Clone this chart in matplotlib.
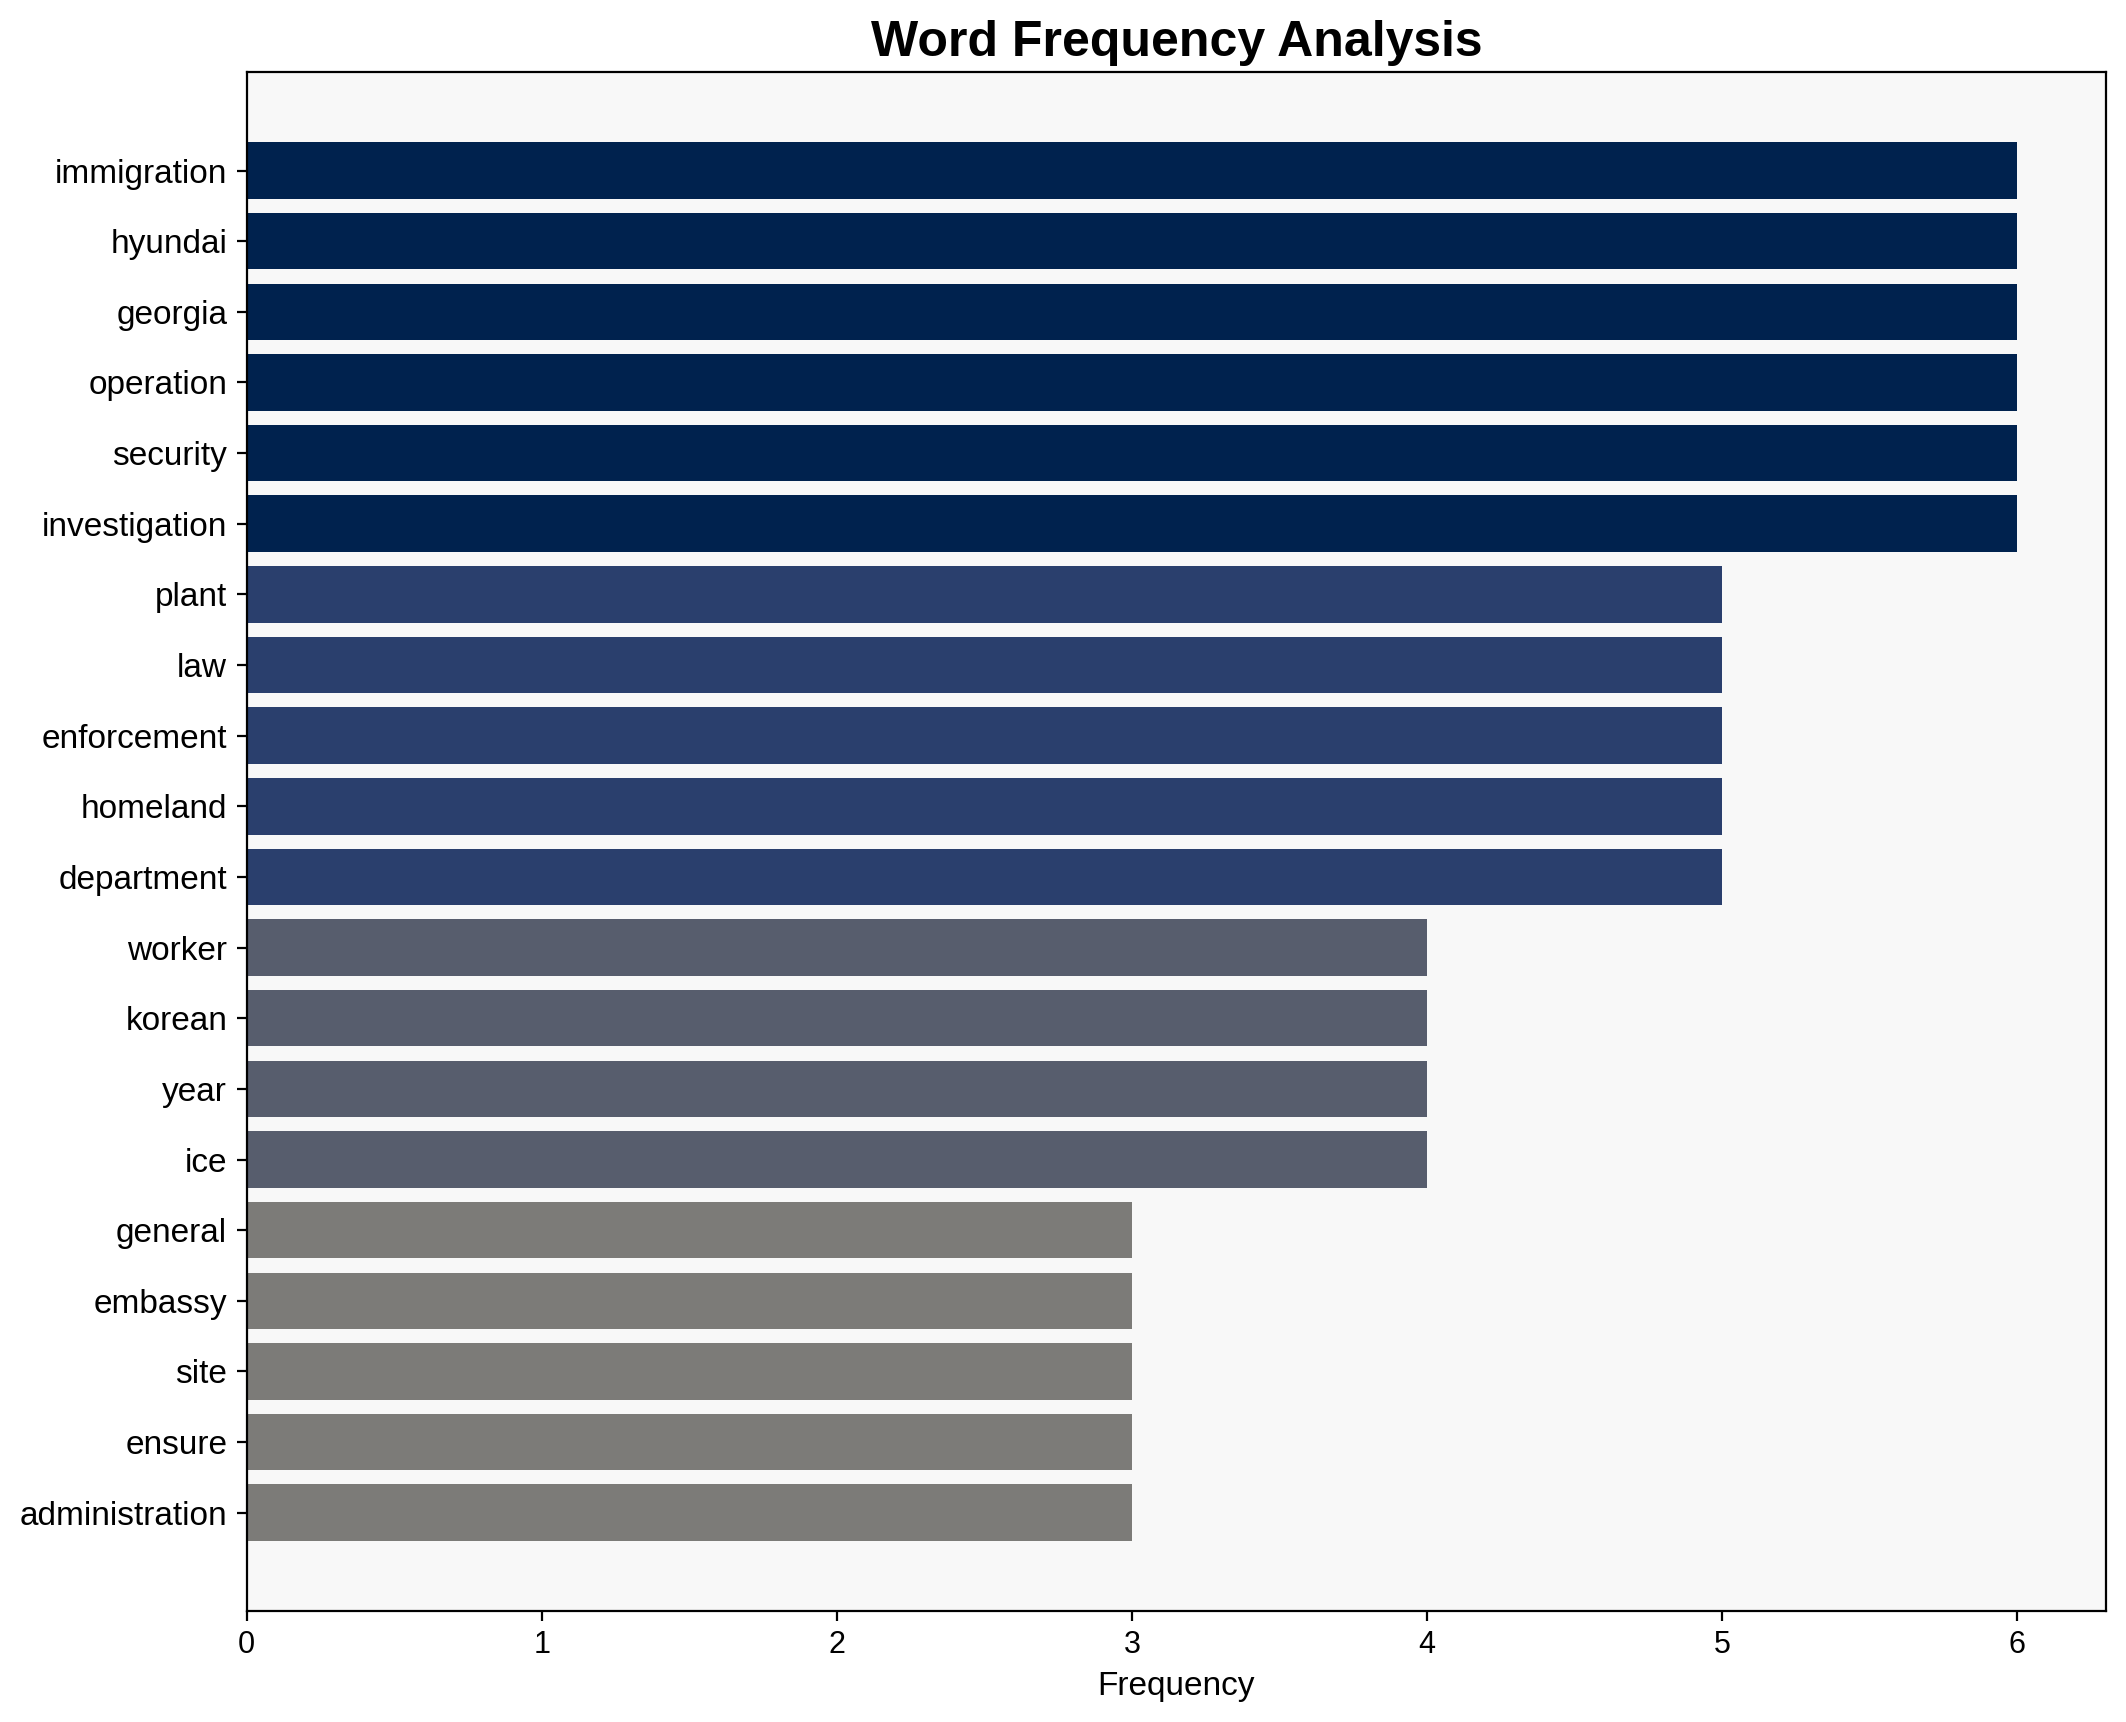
import numpy as np
import matplotlib
matplotlib.use("Agg")
import matplotlib.pyplot as plt

plt.rcParams['font.family'] = ['Liberation Sans', 'DejaVu Sans']

words = ["immigration", "hyundai", "georgia", "operation", "security", "investigation",
         "plant", "law", "enforcement", "homeland", "department",
         "worker", "korean", "year", "ice",
         "general", "embassy", "site", "ensure", "administration"]
freqs = [6, 6, 6, 6, 6, 6,
         5, 5, 5, 5, 5,
         4, 4, 4, 4,
         3, 3, 3, 3, 3]

fig = plt.figure(figsize=(10.63, 8.61), dpi=200)
ax = fig.add_subplot(111)
fig.subplots_adjust(left=0.116, right=0.9906, top=0.958, bottom=0.0645)

vals = np.array(freqs)
# darker bars for more frequent words
colors = plt.cm.cividis_r(vals / vals.max())
y = np.arange(len(words))
ax.barh(y, vals, height=0.8, color=colors)
ax.set_yticks(y)
ax.set_yticklabels(words, fontsize=12)
ax.invert_yaxis()
ax.set_xlim(0, vals.max() * 1.05)
ax.tick_params(axis='x', labelsize=11)
ax.set_xlabel("Frequency", fontsize=12)
ax.set_title("Word Frequency Analysis", fontsize=18, fontweight='bold')
ax.set_facecolor('#f8f8f8')

fig.savefig("out.png", dpi=200)
